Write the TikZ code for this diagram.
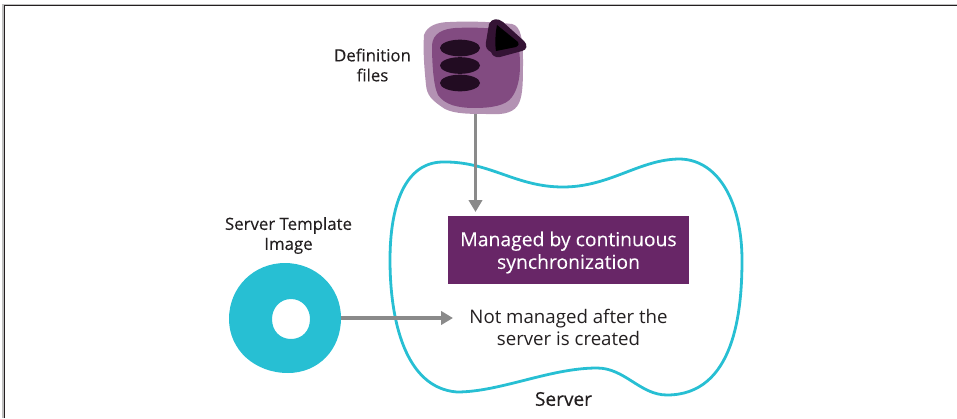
\documentclass[tikz,border=0pt]{standalone}
\usepackage{fontspec}
\setmainfont{Open Sans}
\usetikzlibrary{arrows.meta,shapes.geometric}
\definecolor{cyanb}{HTML}{27BFD3}
\definecolor{purp}{HTML}{682667}
\definecolor{arrowg}{HTML}{8A8A8A}
\definecolor{ink}{HTML}{231F20}
\definecolor{ellc}{HTML}{220C22}
\tikzset{
  lbl/.style={align=center,text=ink,font=\fontsize{12.6}{15}\selectfont\addfontfeature{FakeBold=0.25},inner sep=0pt},
  big/.style={align=center,inner sep=0pt,font=\fontsize{14.5}{17}\selectfont\addfontfeature{FakeBold=0.12}},
  conn/.style={draw=arrowg,line width=2.4pt,-{Triangle[length=9pt,width=10pt]}},
  ell/.style={ellipse,fill=ellc,draw=none,minimum width=30pt,minimum height=12.5pt,inner sep=0pt},
}
\begin{document}
\begin{tikzpicture}[x=0.75pt,y=-0.75pt]
\useasboundingbox (0,0) rectangle (957,418);
\draw[draw=lightgray,line width=.9pt] (3,418) -- (3,4.5) -- (957,4.5);
\draw[draw=ink,line width=1pt] (4.5,418) -- (4.5,5.5) -- (957,5.5);
% definition icon
\fill[purp,fill opacity=.5] (450,22) .. controls (470,21) and (495,22) .. (512,24) .. controls (521,26) and (523,40) .. (523,60)
  .. controls (523,80) and (523,95) .. (519,103) .. controls (515,112) and (505,115) .. (490,114) .. controls (470,114) and (455,114) .. (445,109)
  .. controls (431,100) and (427,95) .. (426,85) .. controls (424,65) and (423,50) .. (424,35) .. controls (427,26) and (437,22) .. (450,22) -- cycle;
\fill[purp,fill opacity=.65] (455,28) .. controls (475,27) and (500,28) .. (510,32) .. controls (518,36) and (520,50) .. (520,65)
  .. controls (520,80) and (517,90) .. (512,97) .. controls (506,106) and (490,108) .. (475,108) .. controls (458,108) and (445,105) .. (438,95)
  .. controls (433,85) and (432,60) .. (432,45) .. controls (433,33) and (443,29) .. (455,28) -- cycle;
\node[ell] (e1) at (460,48) {};
\node[ell] (e2) at (460,65.5) {};
\node[ell] (e3) at (460,83) {};
\fill[black!50!purp] (489,24) .. controls (492,18) and (498,18) .. (503,22) -- (524,41) .. controls (528,45) and (527,50) .. (522,51)
  -- (500,57) .. controls (495,58) and (492,55) .. (491,52) .. controls (487,50) and (485,47) .. (486,42) -- cycle;
\fill[black] (497,25) -- (518,42) .. controls (519,44) and (519,45) .. (516,47) -- (496,51) .. controls (495,45) and (495,35) .. (497,25) -- cycle;
\coordinate (iconb) at (475.5,114);
% labels
\node[lbl] (deflab) at (372.5,65) {Definition\\files};
\node[lbl] (tpllab) at (288.5,235.5) {Server Template\\Image};
% donut
\fill[cyanb,even odd rule] (285,263) .. controls (316,263) and (341,287) .. (341,318) .. controls (341,350) and (318,373) .. (288,373)
  .. controls (255,373) and (229,350) .. (229,319) .. controls (229,287) and (254,263) .. (285,263) -- cycle
  (291,299) .. controls (302,299) and (310,308) .. (310,319) .. controls (310,331) and (302,339) .. (291,339) .. controls (280,339) and (272,331) .. (272,319) .. controls (272,308) and (280,299) .. (291,299) -- cycle;
\coordinate (donutr) at (341,318);
% server blob
\draw[cyanb,line width=2.1pt] (390,260)
  .. controls (390,205) and (405,163) .. (442,162)
  .. controls (490,161) and (515,187) .. (563,187)
  .. controls (610,187) and (640,159) .. (680,159)
  .. controls (720,160) and (742,205) .. (742,260)
  .. controls (742,310) and (735,395) .. (667,395)
  .. controls (640,395) and (625,368) .. (597,368)
  .. controls (550,368) and (500,392) .. (457,392)
  .. controls (405,388) and (390,320) .. (390,260) -- cycle;
\node[fill=purp,minimum width=180.5pt,minimum height=51.5pt,inner sep=0pt] (mbox) at (568.5,250) {};
\node[big,text=white] (mtxt) at (568.5,252.5) {Managed by continuous\\synchronization};
\node[big,text=ink,font=\fontsize{14}{17}\selectfont] (nm) at (568.5,327.5) {Not managed after the\\server is created};
\node[big,text=ink,font=\fontsize{14.3}{17}\selectfont\addfontfeature{FakeBold=0.35}] (srv) at (563.5,399) {Server};
% connectors
\coordinate (marr) at (475.5,212);
\coordinate (narr) at (453,318);
\draw[conn] (iconb) -- (marr);
\draw[conn] (donutr) -- (narr);
\end{tikzpicture}
\end{document}
